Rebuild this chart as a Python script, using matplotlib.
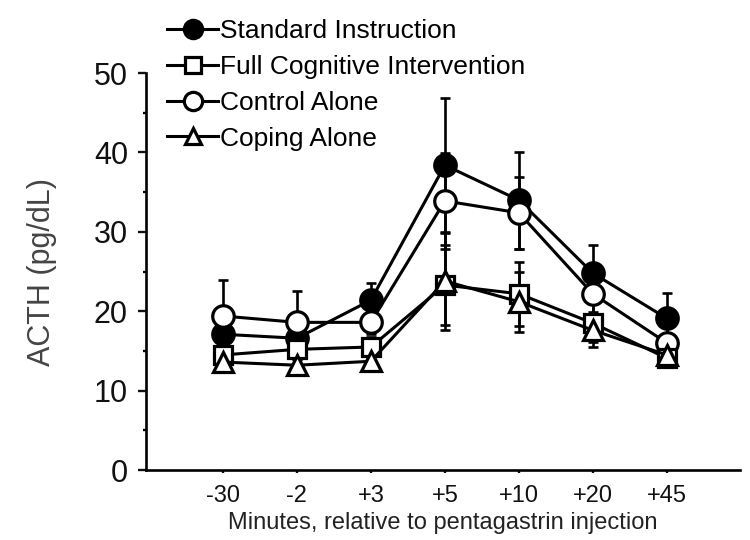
import numpy as np
import matplotlib
matplotlib.use('Agg')
import matplotlib.pyplot as plt
from matplotlib.ticker import MultipleLocator

plt.rcParams['font.family'] = ['Liberation Sans', 'DejaVu Sans']

# time points (minutes relative to pentagastrin injection)
x_labels = ['-30', '-2', '+3', '+5', '+10', '+20', '+45']

# ACTH means and error bars
standard = [17.1, 16.6, 21.4, 38.4, 34.0, 24.8, 19.1]
standard_err = [1.2, 1.0, 2.2, 8.5, 6.1, 3.5, 3.2]
full_cog = [14.5, 15.2, 15.5, 23.3, 22.2, 18.5, 14.1]
full_cog_err = [1.0, 1.2, 1.3, 5.0, 4.0, 2.4, 0.8]
control = [19.4, 18.6, 18.6, 33.9, 32.4, 22.2, 16.0]
control_err = [4.5, 3.9, 1.5, 6.0, 4.5, 2.3, 1.0]
coping = [13.6, 13.2, 13.7, 23.8, 21.2, 17.6, 14.5]
coping_err = [0.8, 0.8, 0.8, 6.2, 3.8, 2.1, 0.8]

x = np.arange(1, len(x_labels) + 1)

fig = plt.figure(figsize=(7.5, 5.4), dpi=100)
ax = fig.add_axes([0.1947, 0.1296, 0.792, 0.735])

# drawing order: standard at the bottom, coping on top
series = [
    ('Standard Instruction', standard, standard_err, 'o', 'black', 15.5, 3),
    ('Control Alone', control, control_err, 'o', 'white', 15.5, 4),
    ('Full Cognitive Intervention', full_cog, full_cog_err, 's', 'white', 13, 5),
    ('Coping Alone', coping, coping_err, '^', 'white', 14, 6),
]

handles = {}
for name, y, err, mk, fc, ms, z in series:
    ax.errorbar(x, y, yerr=err, fmt='none', ecolor='black', elinewidth=1.9,
                capsize=3.5, capthick=1.9, zorder=2)
    h, = ax.plot(x, y, color='black', lw=2.2, marker=mk, markersize=ms,
                 markerfacecolor=fc, markeredgecolor='black', markeredgewidth=2.3,
                 zorder=z)
    handles[name] = h

order = ['Standard Instruction', 'Full Cognitive Intervention', 'Control Alone', 'Coping Alone']
fig.legend([handles[n] for n in order], order, loc='upper left',
           bbox_to_anchor=(0.218, 0.972), frameon=False, fontsize=19,
           handlelength=1.9, handletextpad=0.08, labelspacing=0.45,
           borderpad=0.15, borderaxespad=0, markerscale=0.85)

ax.set_xlim(-0.04, 7.99)
ax.set_ylim(0, 50)
ax.set_xticks(x)
ax.set_xticklabels(x_labels)
ax.yaxis.set_major_locator(MultipleLocator(10))
ax.yaxis.set_minor_locator(MultipleLocator(5))

for side in ['top', 'right']:
    ax.spines[side].set_visible(False)
for side in ['left', 'bottom']:
    ax.spines[side].set_linewidth(1.9)

ax.tick_params(axis='y', which='major', length=6, width=1.7, labelsize=22, pad=7, colors='#111111')
ax.tick_params(axis='y', which='minor', length=2.5, width=1.7)
ax.tick_params(axis='x', which='major', length=2.5, width=1.7, labelsize=17, pad=8, colors='#111111')

ax.set_ylabel('ACTH (pg/dL)', fontsize=22, color='#444444')
ax.yaxis.set_label_coords(-0.15, 0.5)
ax.set_xlabel('Minutes, relative to pentagastrin injection', fontsize=17, color='#222222')
ax.xaxis.set_label_coords(0.5, -0.105)

fig.savefig('out.png', dpi=100)
